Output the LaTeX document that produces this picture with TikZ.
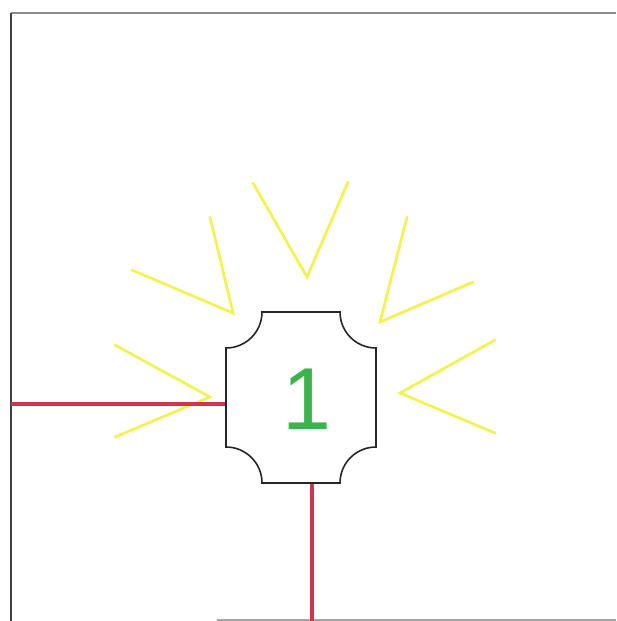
\documentclass[tikz,border=0pt]{standalone}
\usepackage{fontspec}
\setmainfont{Liberation Sans}
\definecolor{rayyellow}{HTML}{F2F24A}
\definecolor{wirered}{HTML}{D2334F}
\definecolor{numgreen}{HTML}{3DB34E}
\tikzset{
  ray/.style={draw=rayyellow, line width=2.6pt, line cap=round, line join=miter},
  wire/.style={draw=wirered, line width=3.6pt},
  frameline/.style={draw=black!75, line width=1.8pt},
  body/.style={draw=black!85, line width=1.6pt, fill=white},
}
\begin{document}
\begin{tikzpicture}[x=1pt,y=-1pt]
\useasboundingbox (0,0) rectangle (616,621);
\fill[white] (0,0) rectangle (616,621);
% frame
\draw[draw=black!45, line width=1.6pt] (11,13) -- (616,13);
\draw[frameline] (11,13) -- (11,621);
\draw[draw=black!35, line width=1.2pt] (217,620) -- (616,620);
% rays
\draw[ray] (253,183) -- (307,277) -- (348,182);
\draw[ray] (210,217) -- (233,313) -- (132,270);
\draw[ray] (407,217) -- (380,322) -- (473,282);
\draw[ray] (115,345) -- (210,397) -- (115,437);
\draw[ray] (495,340) -- (400,393) -- (495,433);
% connection points
\coordinate (west) at (226,404);
\coordinate (south) at (312,483);
\coordinate (leftend) at (11,404);
\coordinate (bottomend) at (312,621);
\draw[wire] (leftend) -- (west);
\draw[wire] (south) -- (bottomend);
% body with concave corners
\path[body] (262,312) -- (340,312)
  arc[start angle=180, end angle=90, radius=36]
  -- (376,447)
  arc[start angle=270, end angle=180, radius=36]
  -- (262,483)
  arc[start angle=360, end angle=270, radius=36]
  -- (226,348)
  arc[start angle=90, end angle=0, radius=36] -- cycle;
\node[text=numgreen, font=\fontsize{88}{88}\selectfont, inner sep=0pt] (num) at (307,399) {1};
\end{tikzpicture}
\end{document}
